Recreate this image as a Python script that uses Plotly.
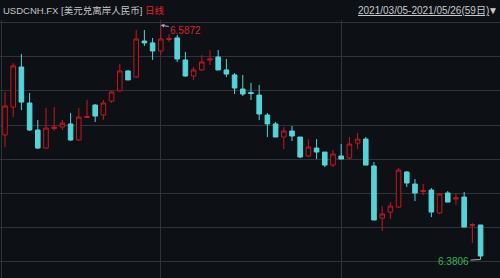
import plotly.graph_objects as go

# ---- data ----
dates = [
    "2021/03/04", "2021/03/05", "2021/03/08", "2021/03/09", "2021/03/10", "2021/03/11", "2021/03/12",
    "2021/03/15", "2021/03/16", "2021/03/17", "2021/03/18", "2021/03/19", "2021/03/22", "2021/03/23",
    "2021/03/24", "2021/03/25", "2021/03/26", "2021/03/29", "2021/03/30", "2021/03/31",
    "2021/04/01", "2021/04/02", "2021/04/05", "2021/04/06", "2021/04/07", "2021/04/08", "2021/04/09",
    "2021/04/12", "2021/04/13", "2021/04/14", "2021/04/15", "2021/04/16", "2021/04/19", "2021/04/20",
    "2021/04/21", "2021/04/22", "2021/04/23", "2021/04/26", "2021/04/27", "2021/04/28", "2021/04/29",
    "2021/04/30",
    "2021/05/03", "2021/05/04", "2021/05/05", "2021/05/06", "2021/05/07", "2021/05/10", "2021/05/11",
    "2021/05/12", "2021/05/13", "2021/05/14", "2021/05/17", "2021/05/18", "2021/05/19", "2021/05/20",
    "2021/05/21", "2021/05/24", "2021/05/25", "2021/05/26",
]
opens = [6.5282, 6.4903, 6.5149, 6.5502, 6.5185, 6.4947, 6.4788, 6.4960, 6.4973, 6.5000,
         6.4859, 6.5057, 6.5167, 6.5079, 6.5202, 6.5291, 6.5467, 6.5414, 6.5731, 6.5714,
         6.5643, 6.5744, 6.5758, 6.5564, 6.5423, 6.5476, 6.5564, 6.5590, 6.5476, 6.5432,
         6.5308, 6.5277, 6.5255, 6.5079, 6.5000, 6.4885, 6.4938, 6.4885, 6.4718, 6.4788,
         6.4753, 6.4638, 6.4718, 6.4700, 6.4832, 6.4867, 6.4630, 6.4171, 6.4224, 6.4268,
         6.4577, 6.4471, 6.4405, 6.4418, 6.4216, 6.4392, 6.4339, 6.4356, 6.4105, 6.4110]
highs = [6.5775, 6.5282, 6.5537, 6.5617, 6.5273, 6.5035, 6.5141, 6.5149, 6.5035, 6.5097,
         6.5141, 6.5211, 6.5176, 6.5211, 6.5291, 6.5529, 6.5476, 6.5828, 6.5828, 6.5758,
         6.5872, 6.5793, 6.5784, 6.5634, 6.5502, 6.5608, 6.5652, 6.5652, 6.5573, 6.5449,
         6.5432, 6.5361, 6.5344, 6.5097, 6.5017, 6.4973, 6.4982, 6.4885, 6.4867, 6.4867,
         6.4753, 6.4771, 6.4823, 6.4885, 6.4920, 6.4885, 6.4665, 6.4277, 6.4312, 6.4612,
         6.4586, 6.4515, 6.4471, 6.4436, 6.4392, 6.4409, 6.4392, 6.4401, 6.4127, 6.4110]
lows = [6.5255, 6.4797, 6.5061, 6.5123, 6.4938, 6.4779, 6.4779, 6.4938, 6.4947, 6.4850,
        6.4850, 6.5052, 6.5017, 6.5035, 6.5185, 6.5282, 6.5388, 6.5405, 6.5687, 6.5564,
        6.5608, 6.5722, 6.5546, 6.5414, 6.5388, 6.5467, 6.5520, 6.5476, 6.5414, 6.5264,
        6.5246, 6.5211, 6.5035, 6.4885, 6.4885, 6.4779, 6.4850, 6.4700, 6.4709, 6.4691,
        6.4621, 6.4621, 6.4691, 6.4691, 6.4779, 6.4638, 6.4154, 6.4057, 6.4163, 6.4260,
        6.4445, 6.4321, 6.4374, 6.4180, 6.4207, 6.4312, 6.4286, 6.4092, 6.3951, 6.3806]
closes = [6.5758, 6.5158, 6.5511, 6.5193, 6.4947, 6.4788, 6.4964, 6.4973, 6.5008, 6.4859,
          6.5061, 6.5066, 6.5070, 6.5185, 6.5282, 6.5467, 6.5388, 6.5749, 6.5714, 6.5643,
          6.5749, 6.5753, 6.5573, 6.5423, 6.5476, 6.5546, 6.5573, 6.5476, 6.5440, 6.5317,
          6.5264, 6.5269, 6.5088, 6.5000, 6.4885, 6.4938, 6.4894, 6.4709, 6.4797, 6.4753,
          6.4638, 6.4735, 6.4691, 6.4823, 6.4867, 6.4638, 6.4154, 6.4207, 6.4277, 6.4594,
          6.4480, 6.4392, 6.4414, 6.4224, 6.4383, 6.4312, 6.4348, 6.4092, 6.4114, 6.3837]
grid_prices = [6.5892, 6.5592, 6.5292, 6.4991, 6.4691, 6.4390, 6.4090, 6.3789]
month_starts = ["2021/04/01", "2021/05/03"]
title_left = "USDCNH.FX [美元兑离岸人民币]"
title_period = "日线"
title_range = "2021/03/05-2021/05/26(59日)"

# ---- style ----
BG = "#0d1015"
RED = "#c8161e"
CYAN = "#54d4d8"
GRID = "#30343a"
FONT = "Liberation Sans, Noto Sans CJK SC, sans-serif"

hi_i = highs.index(max(highs))
lo_i = lows.index(min(lows))

fig = go.Figure(go.Candlestick(
    x=dates, open=opens, high=highs, low=lows, close=closes,
    increasing=dict(line=dict(color=RED, width=1), fillcolor=BG),
    decreasing=dict(line=dict(color=CYAN, width=1), fillcolor=CYAN),
    whiskerwidth=0, hoverinfo="skip",
))

fig.update_layout(
    width=500, height=278,
    margin=dict(l=0, r=0, t=0, b=0),
    paper_bgcolor=BG, plot_bgcolor=BG,
    showlegend=False, boxgap=0.2,
    font=dict(family=FONT, size=10, color="#c4c6c8"),
    xaxis=dict(type="category", range=[0.39, 61.37], rangeslider=dict(visible=False),
               tickvals=month_starts, showticklabels=False, showgrid=True,
               gridcolor=GRID, gridwidth=1, zeroline=False, showline=False, fixedrange=True),
    yaxis=dict(range=[6.36431, 6.59161], domain=[0, 0.92806], tickvals=grid_prices,
               showticklabels=False, showgrid=True, gridcolor=GRID, gridwidth=1,
               zeroline=False, showline=False, fixedrange=True),
    shapes=[dict(type="line", xref="paper", yref="paper", x0=0.003, x1=0.003,
                 y0=0, y1=0.92806, line=dict(color=GRID, width=1))],
    annotations=[
        dict(xref="paper", yref="paper", x=0.002, y=1 - 11 / 278, xanchor="left", yanchor="middle",
             text=f"{title_left} <span style='color:#e0262c'>{title_period}</span>",
             showarrow=False, font=dict(size=9.5, color="#c4c6c8")),
        dict(xref="paper", yref="paper", x=0.982, y=1 - 11 / 278, xanchor="right", yanchor="middle",
             text=f"<u>{title_range}</u>", showarrow=False, font=dict(size=10, color="#c8cacc")),
        dict(xref="paper", yref="paper", x=1.0, y=1 - 11 / 278, xanchor="right", yanchor="middle",
             text="▼", showarrow=False, font=dict(size=10, color="#c8cacc")),
        dict(x=dates[hi_i], y=highs[hi_i], text=f"{highs[hi_i]:.4f}", showarrow=True,
             ax=25, ay=5, arrowhead=2, arrowsize=0.7, arrowwidth=1, arrowcolor="#b0b0b0",
             standoff=0, font=dict(size=10, color="#d8262c")),
        dict(x=dates[lo_i], y=lows[lo_i], text=f"{lows[lo_i]:.4f}", showarrow=True,
             ax=-27, ay=1.5, arrowhead=0, arrowwidth=1, arrowcolor="#b0b0b0",
             standoff=0, font=dict(size=10, color="#2fb44c")),
    ],
)

fig.write_html("out.html")
